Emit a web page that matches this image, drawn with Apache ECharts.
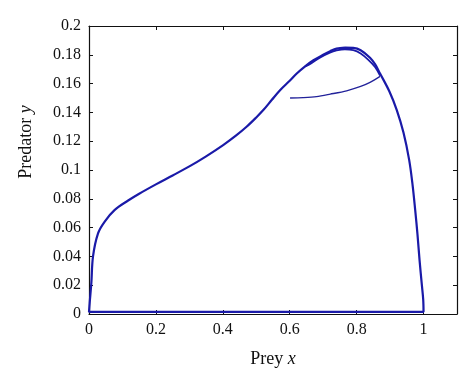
<!DOCTYPE html>
<html>
<head>
<meta charset="utf-8">
<script src="https://cdn.jsdelivr.net/npm/echarts@6/dist/echarts.min.js"></script>
<style>
html, body { margin: 0; padding: 0; background: #fff; }
#main { width: 474px; height: 387px; }
</style>
</head>
<body>
<div id="main"></div>
<script>
// initial transient: from (0.6, 0.15) out to the cycle
let startX = [0.601, 0.64, 0.68, 0.721, 0.77, 0.812, 0.84, 0.87]
let startY = [0.150, 0.1503, 0.151, 0.1527, 0.155, 0.158, 0.1608, 0.165]
// inner arc just under the peak
let innerX = [0.87, 0.855, 0.835, 0.812, 0.79, 0.765, 0.74, 0.72, 0.69, 0.66, 0.646]
let innerY = [0.1655, 0.1715, 0.1765, 0.1809, 0.1832, 0.1838, 0.183, 0.1815, 0.178, 0.1735, 0.172]
// left branch of the cycle, peak down to origin
let leftX = [0.765, 0.74, 0.721, 0.7, 0.671, 0.646, 0.621, 0.6, 0.571, 0.546, 0.521, 0.5, 0.471, 0.44, 0.401, 0.35, 0.3, 0.25, 0.2, 0.15, 0.117, 0.077, 0.047, 0.027, 0.012, 0.007, 0.002, 0]
let leftY = [0.185, 0.1843, 0.1825, 0.18, 0.1762, 0.172, 0.167, 0.162, 0.1554, 0.1486, 0.1416, 0.1365, 0.13, 0.124, 0.1173, 0.1095, 0.1025, 0.0962, 0.09, 0.0835, 0.0788, 0.0723, 0.0642, 0.056, 0.04, 0.0215, 0.0076, 0.0015]
// along the prey axis
let bottomX = [0, 0.5, 0.997]
let bottomY = [0.0015, 0.0015, 0.0015]
// right branch, up from x = 1 to the peak
let rightX = [1.0, 0.999, 0.995, 0.988, 0.982, 0.975, 0.967, 0.957, 0.94, 0.92, 0.898, 0.87, 0.855, 0.84, 0.812, 0.79, 0.765]
let rightY = [0.0015, 0.01, 0.02, 0.0376, 0.055, 0.0723, 0.09, 0.107, 0.126, 0.1416, 0.1545, 0.167, 0.1735, 0.178, 0.1832, 0.1848, 0.185]

const pairs = (xs, ys) => xs.map((x, i) => [x, ys[i]])
const cycle = pairs(leftX, leftY).concat(pairs(bottomX, bottomY), pairs(rightX, rightY))

const font = 'Liberation Serif'
const ink = '#111'
const blue = '#1a1aa8'

const frame = {
    axisLine: { onZero: false, lineStyle: { color: ink, width: 1.2 } },
    axisTick: { inside: true, length: 4, lineStyle: { color: ink } },
    splitLine: { show: false }
}

let myChart = echarts.init(document.getElementById('main'))
let option = {
    animation: false,
    grid: { left: 89, right: 17, top: 26, bottom: 73 },
    xAxis: [
        Object.assign({
            type: 'value', min: 0, max: 1.1, interval: 0.2,
            name: 'Prey {i|x}', nameLocation: 'middle', nameGap: 36,
            nameTextStyle: { fontFamily: font, fontSize: 18, color: ink, rich: { i: { fontStyle: 'italic', fontFamily: font, fontSize: 18, color: ink } } },
            axisLabel: { showMaxLabel: false, fontFamily: font, fontSize: 16, color: ink, margin: 8 }
        }, frame),
        Object.assign({
            type: 'value', position: 'top', min: 0, max: 1.1, interval: 0.2,
            axisLabel: { show: false }
        }, frame)
    ],
    yAxis: [
        Object.assign({
            type: 'value', min: 0, max: 0.2, interval: 0.02,
            name: 'Predator {i|y}', nameLocation: 'middle', nameGap: 54,
            nameTextStyle: { fontFamily: font, fontSize: 18, color: ink, padding: [0, 0, 0, 56], rich: { i: { fontStyle: 'italic', fontFamily: font, fontSize: 18, color: ink } } },
            axisLabel: { fontFamily: font, fontSize: 16, color: ink, margin: 8 }
        }, frame),
        Object.assign({
            type: 'value', position: 'right', min: 0, max: 0.2, interval: 0.02,
            axisLabel: { show: false }
        }, frame)
    ],
    series: [
        {
            type: 'line', data: pairs(startX, startY), showSymbol: false, smooth: 0.3,
            lineStyle: { color: '#22229a', width: 1.3 }
        },
        {
            type: 'line', data: pairs(innerX, innerY), showSymbol: false, smooth: 0.3,
            lineStyle: { color: blue, width: 1.8 }
        },
        {
            type: 'line', data: cycle, showSymbol: false, smooth: 0.35,
            lineStyle: { color: blue, width: 2.2 }
        }
    ]
}
myChart.setOption(option)
</script>
</body>
</html>
